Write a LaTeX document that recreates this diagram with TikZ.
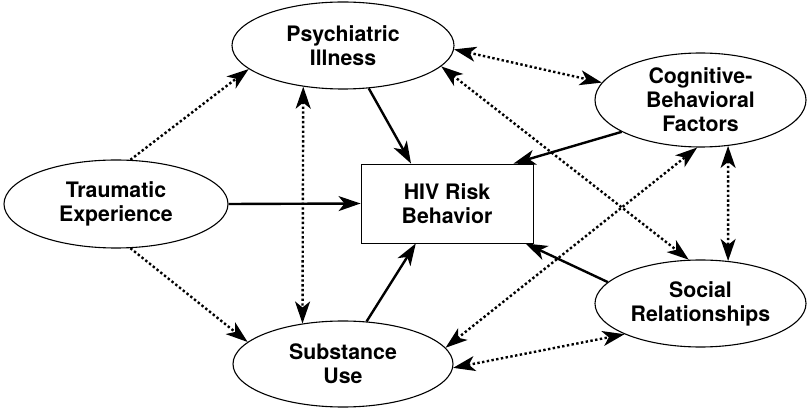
\documentclass[tikz,border=0pt]{standalone}
\usepackage{fontspec}
\setmainfont{TeX Gyre Heros}
\usetikzlibrary{arrows.meta,shapes.geometric}

\begin{document}
\begin{tikzpicture}[x=1pt,y=1pt,
  factor/.style={draw,ellipse,line width=1.1pt,inner sep=0pt,align=center,
    font={\bfseries\fontsize{21.3}{24}\selectfont}},
  outcome/.style={draw,rectangle,line width=0.9pt,minimum width=172pt,minimum height=79pt,
    align=center,font={\bfseries\fontsize{21.3}{24}\selectfont}},
  tip/.tip={Stealth[length=22pt,width=15pt,inset=6pt]},
  effect/.style={-tip,line width=2.4pt},
  assoc/.style={line width=2.4pt,dash pattern=on 2.4pt off 2.4pt}]
\useasboundingbox (0,0) rectangle (809,410);
% the six constructs
\node [factor,minimum width=224pt,minimum height=88pt] (te) at (116,206) {Traumatic\\Experience};
\node [factor,minimum width=222pt,minimum height=87pt] (pi) at (343,364.5) {Psychiatric\\Illness};
\node [factor,minimum width=220pt,minimum height=86pt] (su) at (343,46) {Substance\\Use};
\node [factor,minimum width=211pt,minimum height=94pt] (cbf) at (700.5,310) {Cognitive-\\Behavioral\\Factors};
\node [factor,minimum width=211pt,minimum height=87pt] (sr) at (700.5,106.5) {Social\\Relationships};
\node [outcome] (hiv) at (447,206.5) {HIV Risk\\Behavior};
% direct paths to the outcome
\draw [effect] (te.east) -- (hiv.west);
\draw [effect] (pi.-59) -- (hiv.132);
\draw [effect] (su.61) -- (hiv.-128);
\draw [effect] (cbf.-158) -- (hiv.31);
\draw [effect] (sr.167) -- (hiv.-27.5);
% associations between the constructs
\draw [assoc,-tip] (te.72) -- (pi.-166);
\draw [assoc,-tip] (te.-72) -- (su.167);
\draw [assoc,tip-tip] (pi.226) -- (su.135);
\draw [assoc,tip-tip] (pi.-2) -- (cbf.170);
\draw [assoc,tip-tip] (pi.-12) -- (sr.105);
\draw [assoc,tip-tip] (su.9) -- (cbf.-94);
\draw [assoc,tip-tip] (su.-2) -- (sr.-158);
\draw [assoc,tip-tip] (cbf.-59) -- (sr.57);
\end{tikzpicture}
\end{document}
